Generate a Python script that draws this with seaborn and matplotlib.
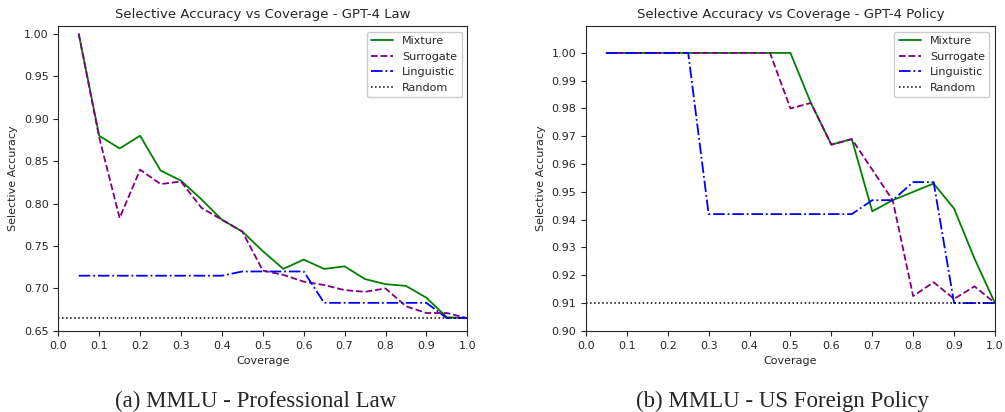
import numpy as np
import pandas as pd
import matplotlib
matplotlib.use("Agg")
import matplotlib.pyplot as plt
import seaborn as sns

# Coverage levels
coverage = [0.05, 0.10, 0.15, 0.20, 0.25, 0.30, 0.35, 0.40, 0.45, 0.50,
            0.55, 0.60, 0.65, 0.70, 0.75, 0.80, 0.85, 0.90, 0.95, 1.00]

# (a) GPT-4 Law
law_mixture = [1.000, 0.880, 0.865, 0.880, 0.839, 0.827, 0.805, 0.781, 0.767, 0.744,
               0.723, 0.734, 0.723, 0.726, 0.711, 0.705, 0.703, 0.689, 0.666, 0.665]
law_surrogate = [1.000, 0.878, 0.783, 0.840, 0.823, 0.826, 0.795, 0.781, 0.767, 0.721,
                 0.716, 0.708, 0.704, 0.698, 0.696, 0.700, 0.679, 0.671, 0.671, 0.665]
law_linguistic = [0.715, 0.715, 0.715, 0.715, 0.715, 0.715, 0.715, 0.715, 0.720, 0.720,
                  0.720, 0.720, 0.683, 0.683, 0.683, 0.683, 0.683, 0.683, 0.665, 0.665]
law_random = 0.665

# (b) GPT-4 Policy
pol_mixture = [1.000, 1.000, 1.000, 1.000, 1.000, 1.000, 1.000, 1.000, 1.000, 1.000,
               0.982, 0.967, 0.969, 0.943, 0.947, 0.950, 0.953, 0.944, 0.926, 0.910]
pol_surrogate = [1.000, 1.000, 1.000, 1.000, 1.000, 1.000, 1.000, 1.000, 1.000, 0.980,
                 0.982, 0.967, 0.969, 0.958, 0.947, 0.9125, 0.9175, 0.9115, 0.916, 0.910]
pol_linguistic = [1.000, 1.000, 1.000, 1.000, 1.000, 0.942, 0.942, 0.942, 0.942, 0.942,
                  0.942, 0.942, 0.942, 0.947, 0.947, 0.9535, 0.9535, 0.910, 0.910, 0.910]
pol_random = 0.910

sns.set_style("ticks")
plt.rcParams["font.family"] = ["DejaVu Sans"]

fig, axes = plt.subplots(1, 2, figsize=(10.05, 4.12), dpi=100)
fig.subplots_adjust(left=0.058, right=0.990, top=0.937, bottom=0.197, wspace=0.29)

panels = [
    (axes[0], law_mixture, law_surrogate, law_linguistic, law_random,
     "Selective Accuracy vs Coverage - GPT-4 Law", (0.65, 1.0094),
     np.arange(0.65, 1.001, 0.05), "(a) MMLU - Professional Law", 256),
    (axes[1], pol_mixture, pol_surrogate, pol_linguistic, pol_random,
     "Selective Accuracy vs Coverage - GPT-4 Policy", (0.90, 1.0097),
     np.arange(0.90, 1.001, 0.01), "(b) MMLU - US Foreign Policy", 782),
]

for ax, mix, sur, lin, rnd, title, ylim, yticks, caption, cap_x in panels:
    df = pd.DataFrame({"coverage": coverage, "Mixture": mix,
                       "Surrogate": sur, "Linguistic": lin})
    sns.lineplot(data=df, x="coverage", y="Mixture", ax=ax, color="green",
                 linestyle="-", label="Mixture", linewidth=1.3)
    sns.lineplot(data=df, x="coverage", y="Surrogate", ax=ax, color="purple",
                 linestyle="--", label="Surrogate", linewidth=1.3)
    sns.lineplot(data=df, x="coverage", y="Linguistic", ax=ax, color="blue",
                 linestyle="-.", label="Linguistic", linewidth=1.3)
    ax.axhline(rnd, color="black", linestyle=":", label="Random", linewidth=1.1)

    ax.set_xlim(0, 1)
    ax.set_ylim(*ylim)
    ax.set_xticks(np.round(np.arange(0, 1.01, 0.1), 1))
    ax.set_yticks(yticks)
    ax.set_yticklabels([f"{v:.2f}" for v in yticks])
    ax.tick_params(labelsize=8, length=3.5)
    ax.set_title(title, fontsize=9.5)
    ax.set_xlabel("Coverage", fontsize=8)
    ax.set_ylabel("Selective Accuracy", fontsize=8)
    ax.legend(loc="upper right", fontsize=8, framealpha=1, handlelength=2)
    fig.text(cap_x / 1005, 0.011, caption, ha="center", va="baseline",
             fontsize=16.5, family="Liberation Serif")

fig.savefig("out.png", dpi=100)
